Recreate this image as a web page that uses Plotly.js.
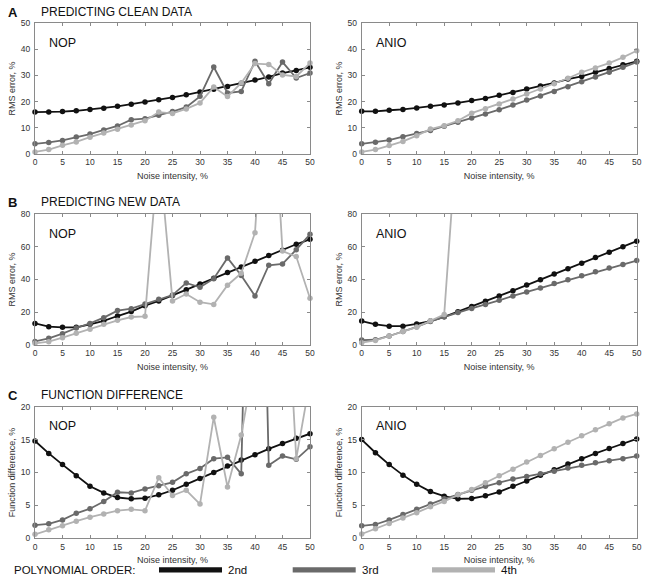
<!DOCTYPE html>
<html>
<head>
<meta charset="utf-8">
<script src="https://cdn.plot.ly/plotly-3.0.1.min.js"></script>
<style>html,body{margin:0;padding:0;background:#fff;}#chart{width:647px;height:583px;}</style>
</head>
<body>
<div id="chart"></div>
<script>
// Noise intensity, %
const noise = [0,2.5,5,7.5,10,12.5,15,17.5,20,22.5,25,27.5,30,32.5,35,37.5,40,42.5,45,47.5,50];
const orders = ['2nd','3rd','4th'];

// A: predicting clean data (RMS error, %)
const A_NOP_2nd  = [16.0,16.0,16.2,16.5,17.0,17.5,18.2,19.0,19.8,20.7,21.6,22.6,23.7,24.7,25.8,27.0,28.2,29.4,30.9,31.9,33.1];
const A_NOP_3rd  = [3.9,4.4,5.2,6.5,7.6,9.2,10.7,13.1,13.5,14.8,16.2,17.9,22.0,33.2,23.3,23.9,35.4,26.8,35.1,29.0,30.9];
const A_NOP_4th  = [0.8,1.7,3.3,4.6,6.4,8.0,9.4,11.1,12.7,16.0,15.5,17.2,19.5,25.6,21.9,27.1,34.5,34.2,30.2,29.6,34.7];
const A_ANIO_2nd = [16.3,16.3,16.7,17.0,17.6,18.2,18.7,19.5,20.4,21.2,22.4,23.5,24.8,26.0,27.1,28.6,29.6,31.2,32.6,34.1,35.4];
const A_ANIO_3rd = [3.9,4.5,5.3,6.6,7.8,9.0,10.6,12.1,13.7,15.3,16.9,18.7,20.6,22.1,23.9,25.7,27.6,29.4,31.2,33.1,35.1];
const A_ANIO_4th = [0.8,1.7,3.2,4.8,7.0,9.5,10.8,12.7,15.6,17.3,19.1,21.0,22.9,24.8,26.8,28.9,31.2,32.8,34.7,36.9,39.4];

// B: predicting new data (RMS error, %)
const B_NOP_2nd  = [13.2,11.2,10.8,10.8,12.6,14.7,17.7,20.4,24.0,26.9,30.3,33.8,37.3,40.7,44.2,47.7,51.1,54.6,57.8,61.5,64.6];
const B_NOP_3rd  = [2.2,4.1,6.9,10.4,13.2,16.7,21.0,22.2,25.0,27.9,30.5,37.9,35.2,40.5,53.2,42.4,29.9,48.7,49.5,58.2,67.6];
const B_NOP_4th  = [1.0,2.0,4.5,7.1,9.6,12.6,15.1,17.1,17.5,120,26.9,31.2,26.1,24.8,36.5,43.8,68.6,200,57.4,54.0,28.5];
const B_ANIO_2nd = [14.6,12.6,11.5,11.5,12.9,14.6,17.2,20.3,23.5,26.7,30.0,33.2,36.7,39.9,43.3,46.6,50.0,53.5,56.7,60.0,63.4];
const B_ANIO_3rd = [3.0,3.2,5.5,8.3,11.1,14.4,17.2,19.8,22.3,24.7,27.3,30.0,32.4,34.8,37.5,39.9,42.3,44.8,47.0,49.2,51.6];
const B_ANIO_4th = [1.4,2.8,5.5,8.3,10.9,14.8,18.6,137,null,null,null,null,null,null,null,null,null,null,null,null,null];

// C: function difference, %
const C_NOP_2nd  = [14.8,12.9,11.2,9.5,7.9,6.9,6.2,6.0,6.1,6.6,7.3,8.2,9.1,10.0,11.0,11.9,12.7,13.6,14.4,15.2,15.9];
const C_NOP_3rd  = [2.0,2.2,2.8,3.8,4.5,5.6,7.0,6.9,7.5,8.0,8.5,9.8,10.6,12.1,12.3,9.8,100,11.1,12.5,12.0,13.9];
const C_NOP_4th  = [0.6,1.3,1.9,2.6,3.2,3.7,4.2,4.4,4.2,9.2,6.5,7.3,5.2,18.4,7.8,15.7,31,40,51,12.1,24];
const C_ANIO_2nd = [15.0,13.0,11.2,9.6,8.2,7.1,6.4,6.0,6.05,6.45,7.05,7.9,8.7,9.6,10.4,11.3,12.1,12.9,13.65,14.4,15.1];
const C_ANIO_3rd = [1.9,2.1,2.8,3.6,4.4,5.2,6.0,6.65,7.3,7.9,8.45,9.0,9.4,9.8,10.2,10.7,11.1,11.5,11.8,12.1,12.5];
const C_ANIO_4th = [0.65,1.45,2.25,3.1,3.9,4.8,5.6,6.6,7.4,8.45,9.5,10.5,11.6,12.6,13.6,14.6,15.6,16.5,17.4,18.3,18.9];

const colors = ['#111111','#6a6a6a','#b2b2b2'];

const panels = [
  {ax:'', data:[A_NOP_2nd,A_NOP_3rd,A_NOP_4th], ymax:50, dtick:10, ytitle:'RMS error, %'},
  {ax:'2', data:[A_ANIO_2nd,A_ANIO_3rd,A_ANIO_4th], ymax:50, dtick:10, ytitle:'RMS error, %'},
  {ax:'3', data:[B_NOP_2nd,B_NOP_3rd,B_NOP_4th], ymax:80, dtick:20, ytitle:'RMS error, %'},
  {ax:'4', data:[B_ANIO_2nd,B_ANIO_3rd,B_ANIO_4th], ymax:80, dtick:20, ytitle:'RMS error, %'},
  {ax:'5', data:[C_NOP_2nd,C_NOP_3rd,C_NOP_4th], ymax:20, dtick:5, ytitle:'Function difference, %'},
  {ax:'6', data:[C_ANIO_2nd,C_ANIO_3rd,C_ANIO_4th], ymax:20, dtick:5, ytitle:'Function difference, %'}
];

const W = 647, H = 583;
const xDomL = [35/W, 310/W], xDomR = [361.7/W, 636.7/W];
const yDoms = [[1-154/H, 1-23/H],[1-345/H, 1-214/H],[1-538.3/H, 1-406.7/H]];

const traces = [];
const layout = {
  width: W, height: H,
  margin: {l:0, r:0, t:0, b:0},
  paper_bgcolor: '#fff', plot_bgcolor: '#fff',
  showlegend: false,
  font: {family: 'Liberation Sans, Arial, sans-serif', color: '#222'},
  annotations: [], shapes: []
};

panels.forEach((p, i) => {
  const xa = 'x' + p.ax, ya = 'y' + p.ax;
  p.data.forEach((ys, k) => {
    traces.push({x: noise, y: ys, xaxis: xa, yaxis: ya, type: 'scatter', mode: 'lines',
      line: {color: colors[k], width: 1.8}, connectgaps: false, hoverinfo: 'skip', name: orders[k]});
    traces.push({x: noise, y: ys.map(v => (v === null || v > p.ymax) ? null : v), xaxis: xa, yaxis: ya,
      type: 'scatter', mode: 'markers', cliponaxis: false,
      marker: {color: colors[k], size: 5.5}, name: orders[k]});
  });
  const row = Math.floor(i/2), col = i % 2;
  const common = {showline: true, mirror: 'ticks', linecolor: '#8a8a8a', linewidth: 1,
    ticks: 'inside', ticklen: 3, tickcolor: '#8a8a8a', showgrid: false, zeroline: false,
    tickfont: {size: 8.5, color: '#333'}};
  layout['xaxis' + p.ax] = Object.assign({}, common, {
    domain: col === 0 ? xDomL : xDomR, anchor: ya, range: [0, 50], dtick: 5, tick0: 0,
    title: {text: 'Noise intensity, %', font: {size: 9, color: '#333'}, standoff: 6}
  });
  layout['yaxis' + p.ax] = Object.assign({}, common, {
    domain: yDoms[row], anchor: xa, range: [0, p.ymax], dtick: p.dtick, tick0: 0,
    ticklabelstandoff: 2,
    title: {text: p.ytitle, font: {size: 9, color: '#333'}, standoff: 3}
  });
  // NOP / ANIO label
  layout.annotations.push({xref: xa + ' domain', yref: ya + ' domain', x: 0.045, y: 0.85,
    xanchor: 'left', yanchor: 'middle', showarrow: false,
    text: col === 0 ? 'NOP' : 'ANIO', font: {size: 12.5, color: '#111'}});
});

// Section letters and titles
const sections = [['A','PREDICTING CLEAN DATA',12],['B','PREDICTING NEW DATA',202],['C','FUNCTION DIFFERENCE',395]];
sections.forEach(s => {
  layout.annotations.push({xref:'paper', yref:'paper', x: 6/W, y: 1 - s[2]/H, xanchor:'left', yanchor:'middle',
    showarrow:false, text:'<b>' + s[0] + '</b>', font:{size:13, color:'#111'}});
  layout.annotations.push({xref:'paper', yref:'paper', x: 39/W, y: 1 - s[2]/H, xanchor:'left', yanchor:'middle',
    showarrow:false, text: s[1], font:{size:12, color:'#111'}});
});

// Legend
layout.annotations.push({xref:'paper', yref:'paper', x: 12/W, y: 1 - 570/H, xanchor:'left', yanchor:'middle',
  showarrow:false, text:'POLYNOMIAL ORDER:', font:{size:11.5, color:'#111'}});
const legX = [159, 292.7, 432];
orders.forEach((o, k) => {
  layout.shapes.push({type:'rect', xref:'paper', yref:'paper', x0: legX[k]/W, x1: (legX[k]+63)/W,
    y0: 1 - 572.5/H, y1: 1 - 567.3/H, fillcolor: colors[k], line:{width:0}});
  layout.annotations.push({xref:'paper', yref:'paper', x: (legX[k]+67)/W, y: 1 - 570/H, xanchor:'left', yanchor:'middle',
    showarrow:false, text:o, font:{size:11.5, color:'#111'}});
});

Plotly.newPlot('chart', traces, layout, {staticPlot: true, displayModeBar: false});
</script>
</body>
</html>
